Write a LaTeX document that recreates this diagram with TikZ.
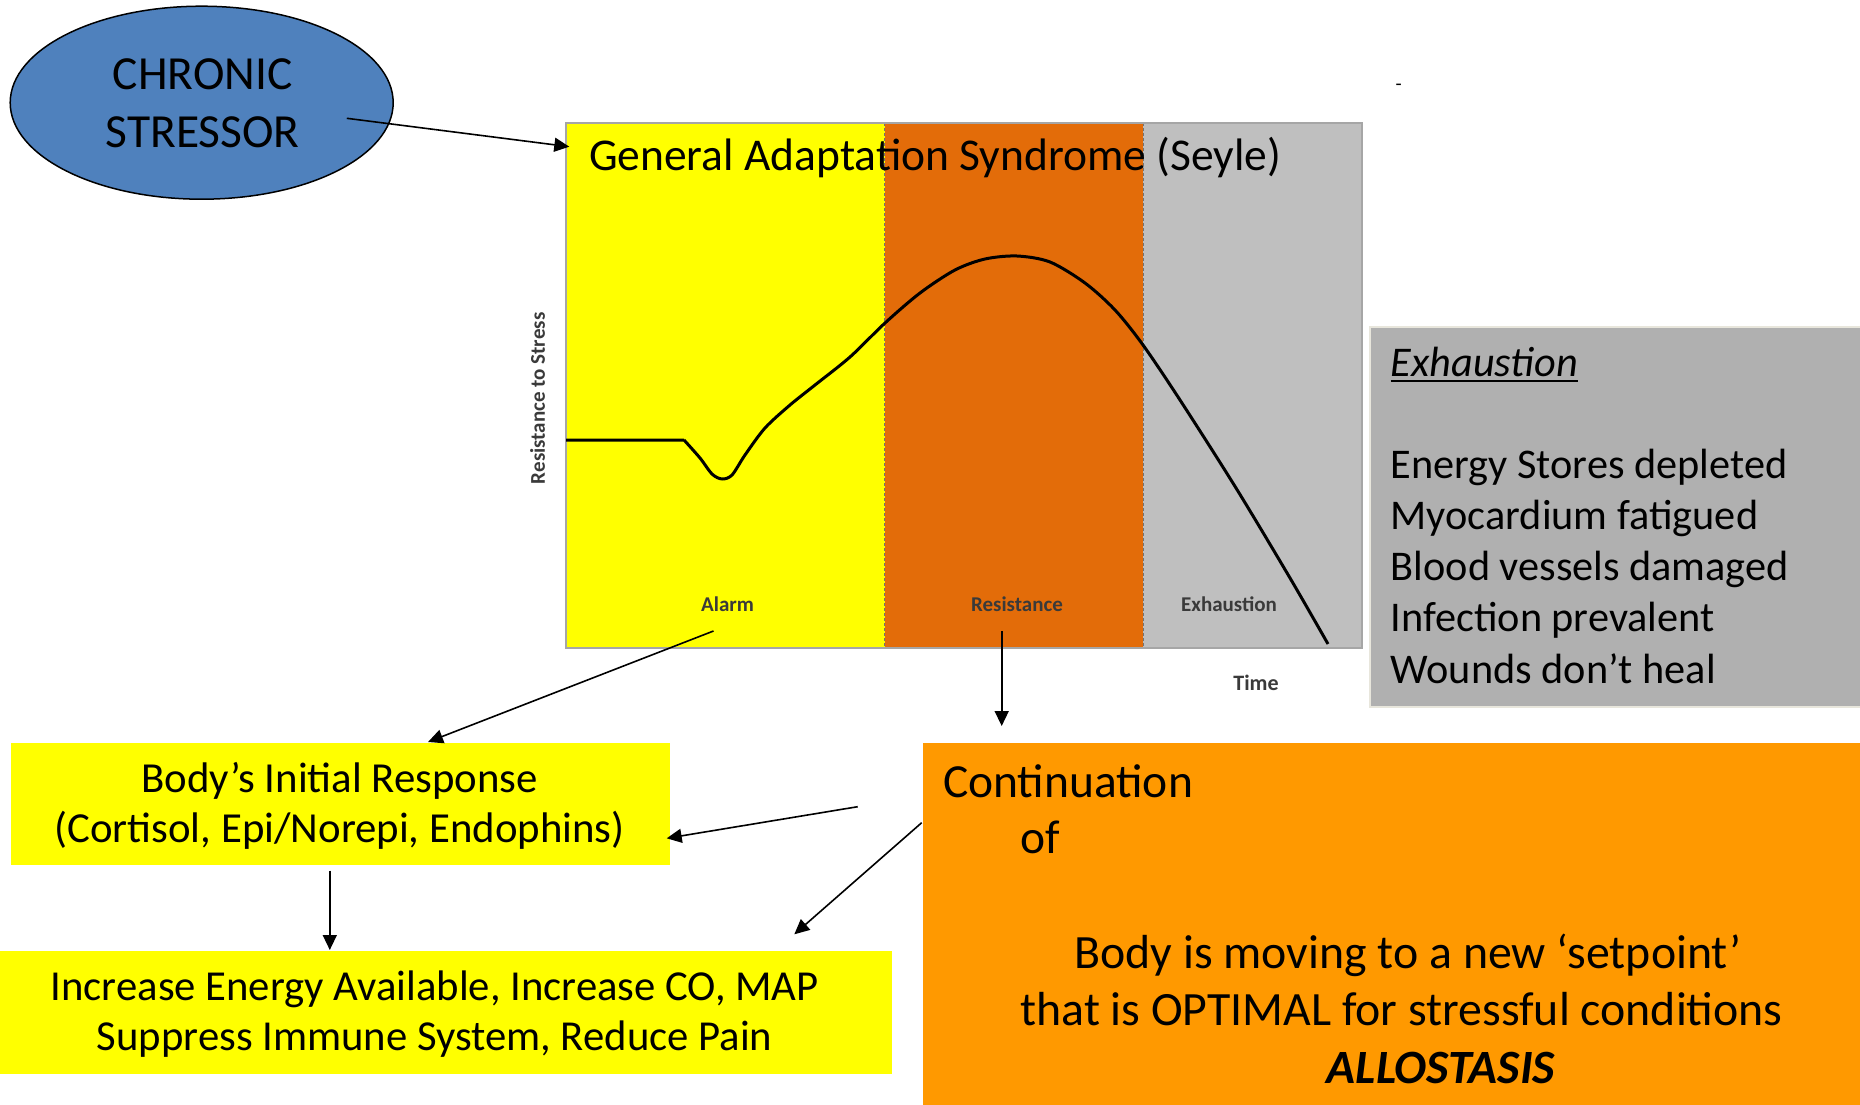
\documentclass[tikz,border=0pt]{standalone}
\usepackage{fontspec}
\setmainfont{Carlito}
\usetikzlibrary{arrows.meta,shapes.geometric}
\definecolor{stressblue}{HTML}{4F81BD}
\definecolor{alarmyellow}{HTML}{FFFF00}
\definecolor{resorange}{HTML}{E36C09}
\definecolor{exgray}{HTML}{BFBFBF}
\definecolor{boxgray}{HTML}{B0B0B0}
\definecolor{boxedge}{HTML}{E8E6DC}
\definecolor{contorange}{HTML}{FF9900}
\definecolor{plotborder}{HTML}{A6A6A6}
\definecolor{labelgray}{HTML}{3A3A3A}
\newcommand\fsz[1]{\fontsize{#1}{#1}\selectfont}
\begin{document}
\begin{tikzpicture}[x=1pt,y=-1pt,
  band/.style={inner sep=0pt, outer sep=0pt, anchor=north west, draw=none},
  panel/.style={inner sep=0pt, outer sep=0pt, anchor=north west, draw=none},
  txt/.style={inner sep=0pt, outer sep=0pt},
  chartlbl/.style={txt, anchor=base, text=labelgray, font=\fsz{21}\bfseries},
  conn/.style={draw=black, line width=1.6pt, -{Triangle[length=15pt,width=14pt]}},
  sep/.style={draw=black!55, line width=1pt, dash pattern=on 3pt off 2pt}
]
\useasboundingbox (0,0) rectangle (1860,1105);
\fill[white] (0,0) rectangle (1860,1105);

% chronic stressor
\node[ellipse, draw=black, line width=1.5pt, fill=stressblue, inner sep=0pt,
      minimum width=383pt, minimum height=193pt] (stressor) at (201.7,102.7) {};
\node[txt, anchor=base, font=\fsz{47.5}] (chronic) at (202.6,90) {CHRONIC};
\node[txt, anchor=base, font=\fsz{47.5}] (stressorb) at (202.6,147.3) {STRESSOR};

% GAS chart
\node[band, fill=alarmyellow, minimum width=318.5pt, minimum height=525pt] (alarm) at (566,123) {};
\node[band, fill=resorange, minimum width=258.5pt, minimum height=525pt] (resist) at (884.5,123) {};
\node[band, fill=exgray, minimum width=219pt, minimum height=525pt] (exhaust) at (1143,123) {};
\draw[sep] (alarm.north east) -- (alarm.south east);
\draw[sep] (resist.north east) -- (resist.south east);
\node[band, draw=plotborder, line width=2pt, minimum width=796pt, minimum height=525pt] (gas) at (566,123) {};

\draw[line width=3pt, line join=round] (566,440) -- (684,440)
  plot[smooth, tension=0.5] coordinates {(684,440) (700,458) (712,474) (722,479) (732,475)
  (745,455) (765,428) (790,405) (815,385) (850,357) (885,323) (920,293) (955,270)
  (985,259) (1017,256) (1050,262) (1085,283) (1115,310) (1143,345) (1180,400)
  (1236,488) (1290,578) (1328,644)};

\node[txt, anchor=base west, font=\fsz{45.5}] (title) at (589,170.4) {General Adaptation Syndrome (Seyle)};
\node[chartlbl] (alarmlbl) at (727.5,611) {Alarm};
\node[chartlbl] (reslbl) at (1017,611) {Resistance};
\node[chartlbl] (exlbl) at (1229,611) {Exhaustion};
\node[chartlbl, font=\fsz{22}\bfseries] (timelbl) at (1256,690) {Time};
\node[txt, text=labelgray, font=\fsz{21}\bfseries, rotate=90] (ylbl) at (537.5,398.3) {Resistance to Stress};

\node[txt, font=\fsz{20}] (dash) at (1398.7,87.7) {-};

% exhaustion panel
\node[panel, fill=boxgray, draw=boxedge, line width=2pt, minimum width=492pt, minimum height=380pt] (expanel) at (1370,327) {};
\node[txt, anchor=base west, font=\fsz{42.3}\itshape] (extitle) at (1390.7,376.7) {Exhaustion};
\draw[line width=2pt] ([yshift=-4.5pt]extitle.base west) -- ([yshift=-4.5pt]extitle.base east);
\node[txt, anchor=base west, font=\fsz{42.3}] (ex1) at (1390.7,478.3) {Energy Stores depleted};
\node[txt, anchor=base west, font=\fsz{42.3}] (ex2) at (1390.7,529.5) {Myocardium fatigued};
\node[txt, anchor=base west, font=\fsz{42.3}] (ex3) at (1390.7,580.7) {Blood vessels damaged};
\node[txt, anchor=base west, font=\fsz{42.3}] (ex4) at (1390.7,631.9) {Infection prevalent};
\node[txt, anchor=base west, font=\fsz{42.3}] (ex5) at (1390.7,683.1) {Wounds don’t heal};

% body's initial response
\node[panel, fill=alarmyellow, minimum width=659.5pt, minimum height=121.5pt] (body) at (10.5,743) {};
\node[txt, anchor=base, font=\fsz{42.8}] (body1) at (339.7,792.7) {Body’s Initial Response};
\node[txt, anchor=base, font=\fsz{42.8}] (body2) at (339.7,842.7) {(Cortisol, Epi/Norepi, Endophins)};

% increase box
\node[panel, fill=alarmyellow, minimum width=891.7pt, minimum height=122.5pt] (incr) at (0,951) {};
\node[txt, anchor=base, font=\fsz{42.7}] (incr1) at (434.6,1000) {Increase Energy Available, Increase CO, MAP};
\node[txt, anchor=base, font=\fsz{42.7}] (incr2) at (434.6,1050) {Suppress Immune System, Reduce Pain};

% continuation box
\node[panel, fill=contorange, minimum width=937.5pt, minimum height=362pt] (cont) at (922.5,743) {};
\node[txt, anchor=base west, font=\fsz{47.5}] (cont1) at (943,797.3) {Continuation};
\node[txt, anchor=base west, font=\fsz{47.5}] (cont2) at (1020,853) {of};
\node[txt, anchor=base, font=\fsz{47.8}] (cont3) at (1408,968.3) {Body is moving to a new ‘setpoint’};
\node[txt, anchor=base, font=\fsz{47.8}] (cont4) at (1401.6,1025) {that is OPTIMAL for stressful conditions};
\node[txt, anchor=base, font=\fsz{47.8}\bfseries\itshape] (cont5) at (1441,1083) {ALLOSTASIS};

% connectors
\coordinate (a1s) at (346.8,118.3);
\coordinate (a1e) at (569.3,146.7);
\coordinate (a2s) at (713.5,631);
\coordinate (a2e) at (428,742);
\coordinate (a3s) at (1001.7,631);
\coordinate (a3e) at (1001.7,726);
\coordinate (a4s) at (857.7,806.7);
\coordinate (a4e) at (666.7,838.3);
\coordinate (a5s) at (921.7,822.7);
\coordinate (a5e) at (794.3,934.3);
\coordinate (a6s) at (329.8,870.7);
\coordinate (a6e) at (329.8,950);
\draw[conn] (a1s) -- (a1e);
\draw[conn] (a2s) -- (a2e);
\draw[conn] (a3s) -- (a3e);
\draw[conn] (a4s) -- (a4e);
\draw[conn] (a5s) -- (a5e);
\draw[conn] (a6s) -- (a6e);
\end{tikzpicture}
\end{document}
